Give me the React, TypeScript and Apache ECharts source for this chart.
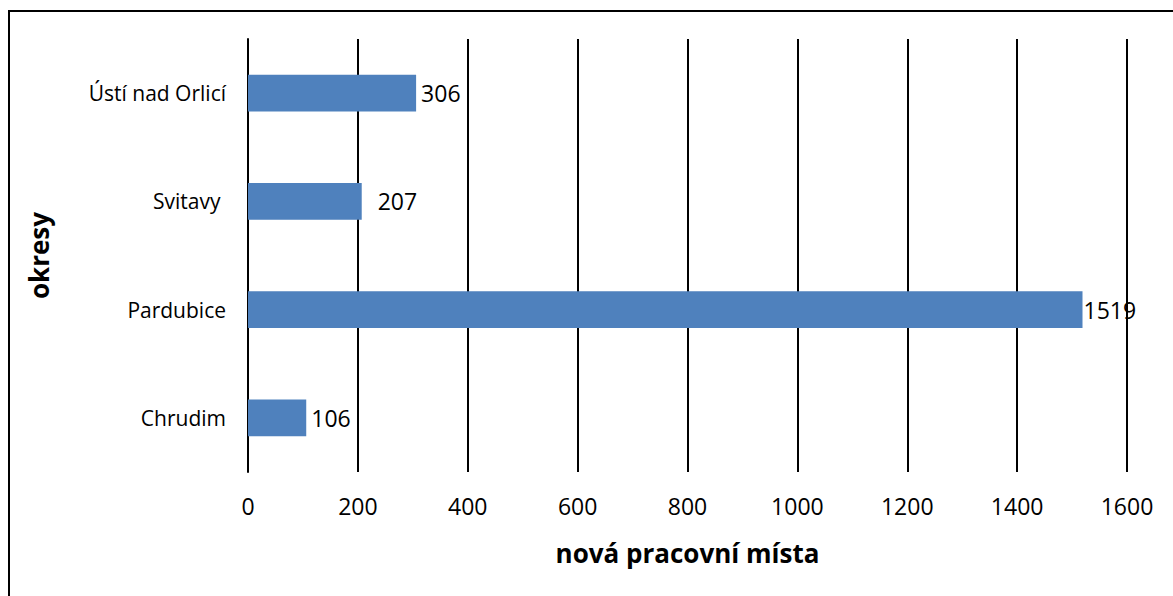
import React, { useEffect, useRef } from "react";
import * as echarts from "echarts";

const categories = ["Chrudim", "Pardubice", "Svitavy ", "Ústí nad Orlicí"];
const values = [106, 1519, 207, 306];
const labelDistances = [5, 1, 16, 5];
const xTicks = { min: 0, max: 1600, interval: 200 };
const xName = "nová pracovní místa";
const yName = "okresy";

const FONT = "'Open Sans', 'Noto Sans', sans-serif";

export default function App() {
  const ref = useRef<HTMLDivElement>(null);
  useEffect(() => {
    document.body.style.margin = "0";
    const chart = echarts.init(ref.current!, null, { renderer: "svg" });
    chart.setOption({
      animation: false,
      backgroundColor: "#ffffff",
      textStyle: { fontFamily: FONT },
      grid: { left: 248, right: 46, top: 39, bottom: 124, containLabel: false },
      graphic: [
        {
          type: "rect",
          shape: { x: 9, y: 11, width: 1300, height: 800 },
          style: { fill: "none", stroke: "#000", lineWidth: 2 },
          silent: true,
        },
      ],
      xAxis: {
        type: "value",
        min: xTicks.min,
        max: xTicks.max,
        interval: xTicks.interval,
        name: xName,
        nameLocation: "middle",
        nameGap: 68,
        nameTextStyle: { fontFamily: FONT, fontSize: 26, fontWeight: "bold", color: "#000" },
        axisLine: { show: false },
        axisTick: { show: false },
        axisLabel: {
          color: "#000",
          fontSize: 23,
          fontFamily: FONT,
          margin: 22,
          formatter: (v: number) => String(v),
        },
        splitLine: { show: true, lineStyle: { color: "#000", width: 2 } },
      },
      yAxis: {
        type: "category",
        data: categories,
        name: yName,
        nameLocation: "middle",
        nameGap: 196,
        nameRotate: 90,
        nameTextStyle: { fontFamily: FONT, fontSize: 26, fontWeight: "bold", color: "#000" },
        axisLine: { show: true, lineStyle: { color: "#000", width: 2 } },
        axisTick: { show: false },
        axisLabel: { color: "#000", fontSize: 21, fontFamily: FONT, margin: 22 },
        splitLine: { show: false },
      },
      series: [
        {
          type: "bar",
          barWidth: "34%",
          itemStyle: { color: "#4F81BD" },
          data: values.map((v, i) => ({
            value: v,
            label: { distance: labelDistances[i] },
          })),
          label: {
            show: true,
            position: "right",
            color: "#000",
            fontSize: 23,
            fontFamily: FONT,
          },
        },
      ],
    });
    return () => chart.dispose();
  }, []);
  return (
    <div
      ref={ref}
      style={{ position: "absolute", left: 0, top: 0, width: 1173, height: 596 }}
    />
  );
}
